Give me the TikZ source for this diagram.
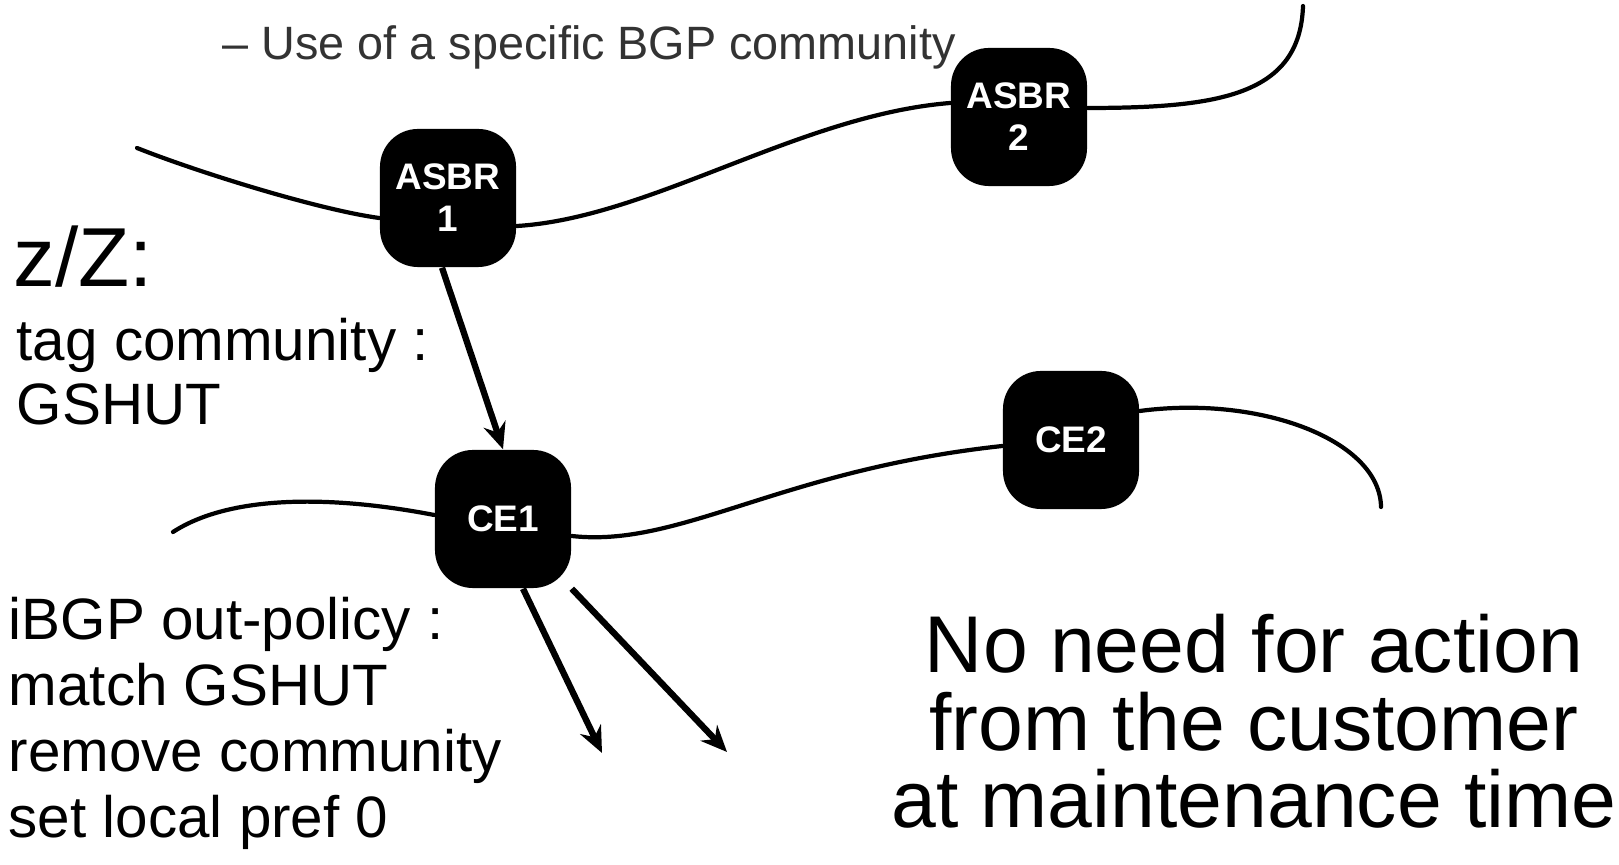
\documentclass[tikz,border=0pt]{standalone}
\usepackage{fontspec}
\setmainfont{Liberation Sans}
\usetikzlibrary{arrows.meta}

\begin{document}
\begin{tikzpicture}[x=0.01cm, y=-0.01cm,
  router/.style={fill=black, rounded corners=0.38cm, minimum width=1.36cm,
    minimum height=1.38cm, inner sep=0pt, text=white, align=center,
    font=\fontsize{10.5pt}{12pt}\selectfont\bfseries},
  link/.style={line width=1.2pt, line cap=round},
  push/.style={line width=1.8pt, -{Stealth[length=7.5pt, width=6.5pt, inset=2.5pt]}},
  note/.style={inner sep=0pt, anchor=base west, align=left,
    font=\fontsize{16.6pt}{18.8pt}\selectfont},
  big/.style={inner sep=0pt, anchor=base west,
    font=\fontsize{23.8pt}{24pt}\selectfont}
]
\useasboundingbox (0,0) rectangle (1619,865);

% routers
\node[router] (asbr1) at (448,198) {ASBR\\1};
\node[router] (asbr2) at (1019,117) {ASBR\\2};
\node[router] (ce1)   at (503,519) {CE1};
\node[router] (ce2)   at (1071,440) {CE2};

% loose ends of the links
\coordinate (l1) at (137,148);
\coordinate (r1) at (1303,6);
\coordinate (l2) at (173,532);
\coordinate (r2) at (1381,507);
\coordinate (d1) at (602,753);
\coordinate (d2) at (727,752);

% links
\draw[link] (l1) .. controls (200,173) and (320,210) .. ([yshift=-0.2cm]asbr1.west);
\draw[link] ([yshift=-0.28cm]asbr1.east) .. controls (650,218) and (800,115) .. ([yshift=0.14cm]asbr2.west);
\draw[link] ([yshift=0.09cm]asbr2.east) .. controls (1220,108) and (1300,95) .. (r1);
\draw[link] (l2) .. controls (230,495) and (330,495) .. ([yshift=0.04cm]ce1.west);
\draw[link] ([yshift=-0.17cm]ce1.east) .. controls (680,548) and (780,470) .. ([yshift=-0.06cm]ce2.west);
\draw[link] ([yshift=0.29cm]ce2.east) .. controls (1260,395) and (1380,440) .. (r2);

% advertisement flow
\draw[push] ([xshift=-0.06cm]asbr1.south) -- (ce1.north);
\draw[push] ([xshift=0.2cm]ce1.south) -- (d1);
\draw[push] (ce1.south east) -- (d2);

% texts (multi-line nodes are placed by the baseline of their last line)
\node[inner sep=0pt, anchor=base west, text=black!80,
  font=\fontsize{13.3pt}{15pt}\selectfont] (bullet) at (222,60)
  {–\ Use of a specific BGP community};
\node[big] (zkey) at (13,287) {z/Z:};
\node[note, font=\fontsize{16.6pt}{18.2pt}\selectfont] (tag) at (16,425)
  {tag community :\\GSHUT};
\node[note] (policy) at (8,838)
  {iBGP out-policy :\\match GSHUT\\remove community\\set local pref 0};
\node[inner sep=0pt, anchor=base, align=center,
  font=\fontsize{22.9pt}{22.1pt}\selectfont] (msg) at (1254,828)
  {No need for action\\from the customer\\at maintenance time};
\end{tikzpicture}
\end{document}
